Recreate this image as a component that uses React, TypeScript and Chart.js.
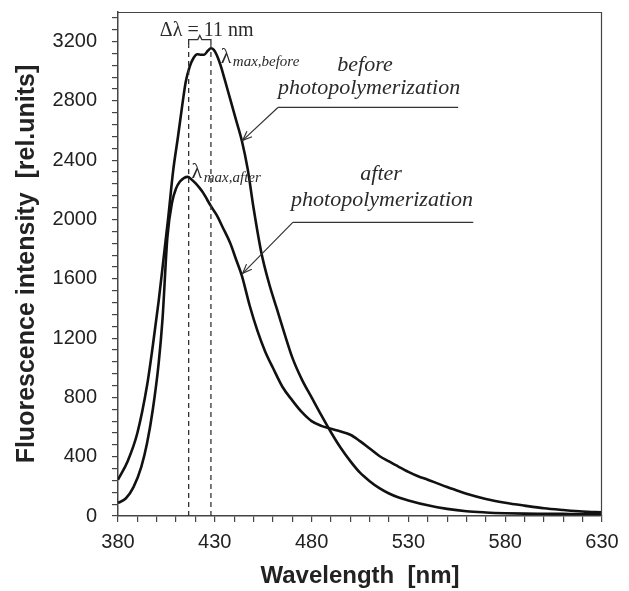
import React, { useEffect, useRef } from 'react';
import { Chart, registerables } from 'chart.js';

Chart.register(...registerables);

// ---------- data ----------
const beforeWavelengths = [380, 385, 390, 395, 398, 401, 404, 406, 408.5, 411, 413.5, 415, 417, 419, 421, 423, 424.5, 426.5, 428, 429.5, 431, 433, 435, 438, 441, 444, 447, 450, 454, 458, 462, 466, 470, 475, 480, 485, 490, 495, 500, 505, 510, 515, 520, 525, 530, 540, 550, 560, 570, 580, 590, 600, 610, 620, 630];
const beforeIntensity = [245, 370, 560, 880, 1150, 1450, 1790, 2020, 2330, 2560, 2800, 2930, 3030, 3090, 3115, 3112, 3112, 3140, 3155, 3145, 3110, 3040, 2950, 2810, 2670, 2530, 2340, 2080, 1780, 1570, 1400, 1230, 1070, 920, 800, 680, 565, 460, 370, 292, 235, 188, 152, 125, 105, 72, 48, 32, 24, 19, 16, 15, 14, 13, 13];

const afterWavelengths = [380, 384, 388, 392, 395, 398, 401, 403, 405.5, 408, 410, 412, 414, 416, 418, 420, 422, 424, 426, 428, 431, 434, 438, 441, 444, 448, 452, 456, 460, 465, 470, 475, 480, 485, 490, 495, 500, 505, 510, 515, 520, 525, 530, 535, 540, 545, 550, 555, 560, 570, 580, 590, 600, 610, 620, 630];
const afterIntensity = [88, 118, 195, 330, 490, 720, 1030, 1330, 1880, 2120, 2210, 2256, 2280, 2288, 2270, 2245, 2215, 2180, 2135, 2090, 2030, 1950, 1840, 1730, 1620, 1420, 1250, 1110, 1000, 870, 780, 700, 640, 608, 588, 570, 548, 505, 455, 405, 368, 332, 298, 268, 245, 220, 195, 172, 150, 115, 90, 70, 52, 40, 30, 25];

const lambdaMaxValues = [416.5, 428]; // after, before
const markerTop = 3175;
const bracketTop = 3214;

const xMin = 380, xMax = 630, xMinorStep = 10, xLabelStep = 50;
const yMin = 0, yMax = 3400, yMinorStep = 80, yLabelStep = 400, yLabelMax = 3200;

const xTitle = 'Wavelength  [nm]';
const yTitle = 'Fluorescence intensity  [rel.units]';

// ---------- helpers ----------
function drawArrow(ctx: CanvasRenderingContext2D, x1: number, y1: number, x2: number, y2: number) {
  ctx.beginPath();
  ctx.moveTo(x1, y1);
  ctx.lineTo(x2, y2);
  ctx.stroke();
  const a = Math.atan2(y2 - y1, x2 - x1);
  const L = 10, w = 0.38;
  ctx.beginPath();
  ctx.moveTo(x2 - L * Math.cos(a - w), y2 - L * Math.sin(a - w));
  ctx.lineTo(x2, y2);
  ctx.lineTo(x2 - L * Math.cos(a + w), y2 - L * Math.sin(a + w));
  ctx.stroke();
}

const annotationPlugin = {
  id: 'customAnnotations',
  afterDatasetsDraw(chart: any) {
    const { ctx, chartArea, scales } = chart;
    const X = (v: number) => scales.x.getPixelForValue(v);
    const Y = (v: number) => scales.y.getPixelForValue(v);
    ctx.save();

    // frame (top and right)
    ctx.strokeStyle = '#444';
    ctx.lineWidth = 1.2;
    ctx.beginPath();
    ctx.moveTo(chartArea.left, chartArea.top + 0.5);
    ctx.lineTo(chartArea.right - 0.5, chartArea.top + 0.5);
    ctx.lineTo(chartArea.right - 0.5, chartArea.bottom);
    ctx.stroke();

    // bracket over the two maxima
    const xa = X(lambdaMaxValues[0]);
    const xb = X(lambdaMaxValues[1]);
    const yt = Y(bracketTop);
    const yl = Y(markerTop);
    const xm = (xa + xb) / 2;
    ctx.strokeStyle = '#333';
    ctx.lineWidth = 1.3;
    ctx.beginPath();
    ctx.moveTo(xa, yl);
    ctx.lineTo(xa, yt);
    ctx.lineTo(xm - 2, yt);
    ctx.lineTo(xm, yt - 4);
    ctx.lineTo(xm + 2, yt);
    ctx.lineTo(xb, yt);
    ctx.lineTo(xb, yl);
    ctx.stroke();

    ctx.fillStyle = '#2a2a2a';
    ctx.textBaseline = 'alphabetic';

    // delta lambda text
    ctx.font = '20px "Liberation Serif", serif';
    ctx.textAlign = 'center';
    ctx.fillText('\u0394\u03bb = 11 nm', X(425.8), Y(3241));

    // lambda max labels
    ctx.textAlign = 'left';
    ctx.font = '22px "Liberation Serif", serif';
    ctx.fillText('\u03bb', X(433.1), Y(3059));
    ctx.fillText('\u03bb', X(418), Y(2278));
    ctx.font = 'italic 15px "Liberation Serif", serif';
    ctx.fillText('max,before', X(439.3), Y(3039));
    ctx.fillText('max,after', X(424.3), Y(2251));

    // curve labels
    ctx.textAlign = 'center';
    ctx.font = 'italic 22px "Liberation Serif", serif';
    ctx.fillText('before', X(507.6), Y(2999));
    ctx.fillText('photopolymerization', X(509.7), Y(2844));
    ctx.fillText('after', X(515.9), Y(2264));
    ctx.fillText('photopolymerization', X(516.4), Y(2089));

    // underline + arrows
    ctx.strokeStyle = '#333';
    ctx.lineWidth = 1.2;
    ctx.beginPath();
    ctx.moveTo(X(462.6), Y(2756));
    ctx.lineTo(X(555.7), Y(2756));
    ctx.stroke();
    drawArrow(ctx, X(462.6), Y(2756), X(444.4), Y(2534));

    ctx.beginPath();
    ctx.moveTo(X(470.3), Y(1981));
    ctx.lineTo(X(563.5), Y(1981));
    ctx.stroke();
    drawArrow(ctx, X(470.3), Y(1981), X(444.4), Y(1637));

    ctx.restore();
  },
};

export default function App() {
  const canvasRef = useRef<HTMLCanvasElement | null>(null);

  useEffect(() => {
    const canvas = canvasRef.current;
    if (!canvas) return;
    const toPoints = (xs: number[], ys: number[]) => xs.map((x, i) => ({ x, y: ys[i] }));
    const markerLine = (v: number) => ({
      data: [{ x: v, y: 0 }, { x: v, y: markerTop }],
      borderColor: '#333',
      borderWidth: 1.3,
      borderDash: [5, 4],
      pointRadius: 0,
      fill: false,
    });

    const chart = new Chart(canvas, {
      type: 'line',
      data: {
        datasets: [
          markerLine(lambdaMaxValues[0]) as any,
          markerLine(lambdaMaxValues[1]) as any,
          {
            label: 'before',
            data: toPoints(beforeWavelengths, beforeIntensity),
            borderColor: '#111',
            borderWidth: 2.6,
            pointRadius: 0,
            cubicInterpolationMode: 'monotone',
            fill: false,
          },
          {
            label: 'after',
            data: toPoints(afterWavelengths, afterIntensity),
            borderColor: '#111',
            borderWidth: 2.6,
            pointRadius: 0,
            cubicInterpolationMode: 'monotone',
            fill: false,
          },
        ],
      },
      options: {
        responsive: false,
        animation: false,
        devicePixelRatio: 1,
        layout: { padding: { top: 12, right: 27, left: 0, bottom: 0 } },
        plugins: { legend: { display: false }, tooltip: { enabled: false } },
        scales: {
          x: {
            type: 'linear',
            min: xMin,
            max: xMax,
            afterFit: (s: any) => { s.height = 75; s.paddingLeft = 0; s.paddingRight = 0; },
            afterBuildTicks: (s: any) => {
              const t = [];
              for (let v = xMin; v <= xMax; v += xMinorStep) t.push({ value: v });
              s.ticks = t;
            },
            ticks: {
              autoSkip: false,
              maxRotation: 0,
              padding: 8,
              color: '#222',
              font: { family: '"Liberation Sans", Arial, sans-serif', size: 20 },
              callback: (v: any) => ((Number(v) - xMin) % xLabelStep === 0 ? String(v) : ''),
            },
            grid: { drawOnChartArea: false, drawTicks: true, tickLength: 6, color: '#444', lineWidth: 1.2 },
            border: { display: true, color: '#444', width: 1.5 },
            title: {
              display: true,
              text: xTitle,
              color: '#222',
              font: { family: '"Liberation Sans", Arial, sans-serif', size: 24, weight: 'bold' },
              padding: { top: 0, bottom: 0 },
            },
          },
          y: {
            type: 'linear',
            min: yMin,
            max: yMax,
            afterFit: (s: any) => { s.width = 118; s.paddingTop = 0; s.paddingBottom = 0; },
            afterBuildTicks: (s: any) => {
              const t = [];
              for (let v = yMin; v <= yMax; v += yMinorStep) t.push({ value: v });
              s.ticks = t;
            },
            ticks: {
              autoSkip: false,
              padding: 15,
              color: '#222',
              font: { family: '"Liberation Sans", Arial, sans-serif', size: 20 },
              callback: (v: any) => (Number(v) % yLabelStep === 0 && Number(v) <= yLabelMax ? String(v) : ''),
            },
            grid: { drawOnChartArea: false, drawTicks: true, tickLength: 6, color: '#444', lineWidth: 1.2 },
            border: { display: true, color: '#444', width: 1.5 },
            title: {
              display: true,
              text: yTitle,
              color: '#222',
              font: { family: '"Liberation Sans", Arial, sans-serif', size: 25, weight: 'bold' },
              padding: { top: 12, bottom: 0 },
            },
          },
        },
      },
      plugins: [annotationPlugin],
    });

    return () => chart.destroy();
  }, []);

  return (
    <div style={{ position: 'fixed', left: 0, top: 0, width: 629, height: 591, background: '#fff' }}>
      <canvas ref={canvasRef} width={629} height={591} style={{ width: 629, height: 591, display: 'block' }} />
    </div>
  );
}
